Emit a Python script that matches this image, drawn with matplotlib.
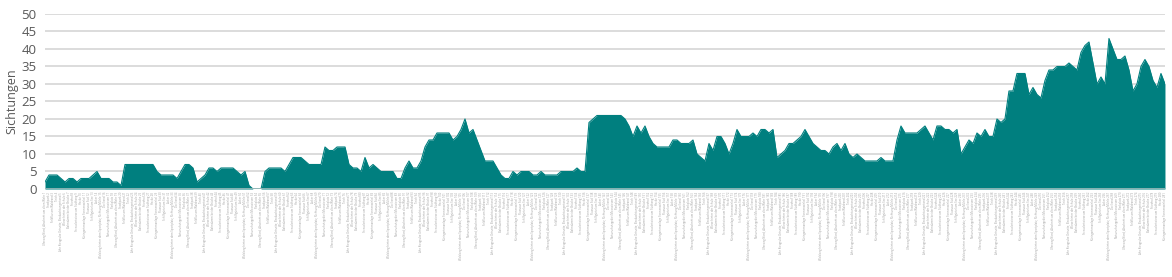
import numpy as np
import matplotlib
matplotlib.use('Agg')
import matplotlib.pyplot as plt

# Werte (Sichtungen je Kategorie)
sichtungen = [
    2, 4, 4, 4, 3, 2, 3, 3, 2, 3,
    3, 3, 4, 5, 3, 3, 3, 2, 2, 1,
    7, 7, 7, 7, 7, 7, 7, 7, 5, 4,
    4, 4, 4, 3, 5, 7, 7, 6, 2, 3,
    4, 6, 6, 5, 6, 6, 6, 6, 5, 4,
    5, 1, 0, 0, 0, 5, 6, 6, 6, 6,
    5, 7, 9, 9, 9, 8, 7, 7, 7, 7,
    12, 11, 11, 12, 12, 12, 7, 6, 6, 5,
    9, 6, 7, 6, 5, 5, 5, 5, 3, 3,
    6, 8, 6, 6, 8, 12, 14, 14, 16, 16,
    16, 16, 14, 15, 17, 20, 16, 17, 14, 11,
    8, 8, 8, 6, 4, 3, 3, 5, 4, 5,
    5, 5, 4, 4, 5, 4, 4, 4, 4, 5,
    5, 5, 5, 6, 5, 5, 19, 20, 21, 21,
    21, 21, 21, 21, 21, 20, 18, 15, 18, 16,
    18, 15, 13, 12, 12, 12, 12, 14, 14, 13,
    13, 13, 14, 10, 9, 8, 13, 11, 15, 15,
    13, 10, 13, 17, 15, 15, 15, 16, 15, 17,
    17, 16, 17, 9, 10, 11, 13, 13, 14, 15,
    17, 15, 13, 12, 11, 11, 10, 12, 13, 11,
    13, 10, 9, 10, 9, 8, 8, 8, 8, 9,
    8, 8, 8, 14, 18, 16, 16, 16, 16, 17,
    18, 16, 14, 18, 18, 17, 17, 16, 17, 10,
    12, 14, 13, 16, 15, 17, 15, 15, 20, 19,
    20, 28, 28, 33, 33, 33, 27, 29, 27, 26,
    31, 34, 34, 35, 35, 35, 36, 35, 34, 39,
    41, 42, 36, 30, 32, 30, 43, 40, 37, 37,
    38, 34, 28, 30, 35, 37, 35, 31, 29, 33,
    30,
]

# Kategorien (im Original unlesbar klein)
orte = [
    'Uferweg Nord, Abschnitt am alten Wehr', 'Stadtpark', 'Feldflur am Waldrand',
    'Teich', 'Alte Kiesgrube Ostseite, Beobachtungsstand', 'Wiese hinter der Schule',
    'Bahndamm bei der Brücke', 'Friedhof', 'Streuobstwiese am Südhang',
    'Hecke', 'Kleingartenanlage Sonnenwinkel', 'Flussaue Süd',
    'Schilfgürtel am See', 'Acker', 'Waldweg hinter dem Sportplatz, Richtung Mühle',
    'Dorfrand', 'Naturschutzgebiet Moorwiesen', 'Parkplatz',
]
kategorien = [f'{orte[i % len(orte)]} {i + 1}' for i in range(len(sichtungen))]

teal = '#007f7f'
grau = '#595959'

plt.rcParams['font.family'] = ['Open Sans', 'DejaVu Sans']

fig = plt.figure(figsize=(11.72, 2.77), dpi=100)
ax = fig.add_axes([0.0384, 0.3177, 0.9556, 0.6318])

x = np.arange(len(sichtungen))
ax.fill_between(x, sichtungen, 0, color=teal, linewidth=0, zorder=3)
ax.plot(x, sichtungen, color=teal, linewidth=0.8, zorder=3)

ax.set_xlim(0, len(sichtungen) - 1)
ax.set_ylim(0, 50)
ax.set_yticks(range(0, 51, 5))
ax.yaxis.grid(True, color='#d9d9d9', linewidth=1.3, zorder=0)
ax.set_axisbelow(True)

ax.set_xticks(x)
ax.set_xticklabels(kategorien, rotation=90, fontsize=2.0, color='#a0a0a0')
ax.tick_params(axis='x', length=0, pad=2)
ax.tick_params(axis='y', length=0, pad=6, labelsize=9.5, labelcolor=grau)

for s in ax.spines.values():
    s.set_visible(False)
ax.axhline(0, color='#9fbcbc', linewidth=1.2, zorder=4)

ax.set_ylabel('Sichtungen', fontsize=9, color=grau, labelpad=2)

fig.savefig('out.png', dpi=100)
